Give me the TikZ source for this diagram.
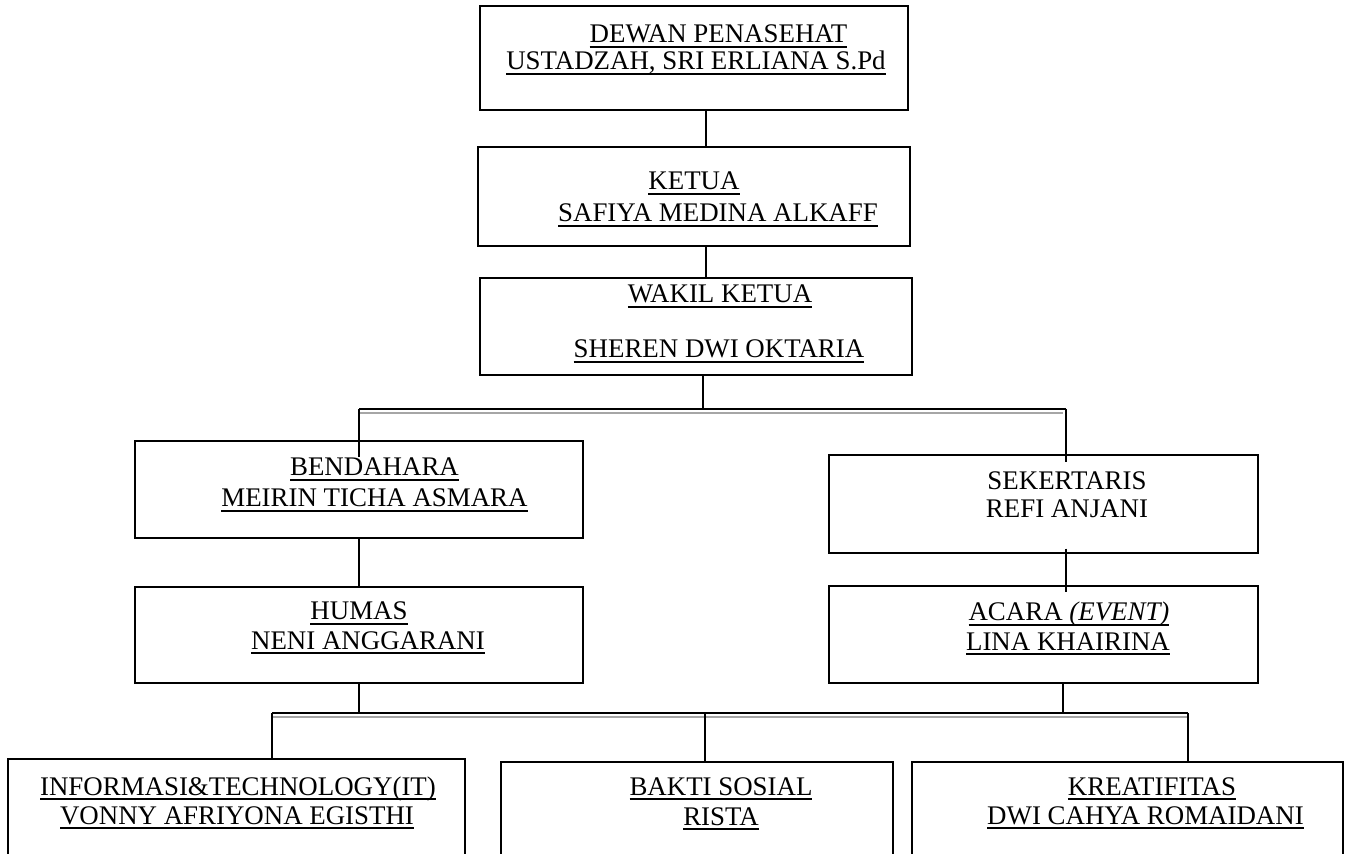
\documentclass[tikz,border=0pt]{standalone}
\usepackage{fontspec}
\setmainfont{Liberation Serif}
\usetikzlibrary{calc}
\newsavebox\labelbox
\newcommand\undl[1]{\sbox\labelbox{#1}\rlap{\rule[-2.8pt]{\wd\labelbox}{1pt}}\usebox\labelbox}

\begin{document}
\begin{tikzpicture}[x=0.02cm, y=-0.02cm, line width=0.6pt,
    font=\fontsize{15.3}{18}\selectfont,
    unit/.style 2 args={draw, minimum width=#1*0.02cm, minimum height=#2*0.02cm, inner sep=0},
    heavy/.style={line width=1.2pt},
    lbl/.style={anchor=base, inner sep=0},
    bus/.style={draw=black!35, line width=0.8pt}]
  \useasboundingbox (0,0) rectangle (1349,854);
  \clip (0,0) rectangle (1349,854);

  % boxes
  \node[unit={428}{104}] (dewan) at (694,58) {};
  \node[unit={432}{99}, heavy] (ketua) at (694,196.5) {};
  \node[unit={432}{97}] (wakil) at (696,326.5) {};
  \node[unit={448}{97}, heavy] (bendahara) at (359,489.5) {};
  \node[unit={429}{98}] (sekertaris) at (1043.5,504) {};
  \node[unit={448}{96}] (humas) at (359,635) {};
  \node[unit={429}{97}] (acara) at (1043.5,634.5) {};
  \node[unit={457}{200}] (it) at (236.5,859) {};
  \node[unit={392}{200}] (bakti) at (697,862) {};
  \node[unit={431}{200}] (kreatif) at (1127.5,862) {};

  % texts
  \node[lbl] (dewan-a) at (718.5,43) {\undl{DEWAN PENASEHAT}};
  \node[lbl] (dewan-b) at (696,70) {\undl{USTADZAH, SRI ERLIANA S.Pd}};
  \node[lbl] (ketua-a) at (694,190) {\undl{KETUA}};
  \node[lbl] (ketua-b) at (718,222) {\undl{SAFIYA MEDINA ALKAFF}};
  \node[lbl] (wakil-a) at (720,303) {\undl{WAKIL KETUA}};
  \node[lbl] (wakil-b) at (719,358) {\undl{SHEREN DWI OKTARIA}};
  \node[lbl] (bendahara-a) at (374.5,476) {\undl{BENDAHARA}};
  \node[lbl] (bendahara-b) at (374.5,507) {\undl{MEIRIN TICHA ASMARA}};
  \node[lbl] (sekertaris-a) at (1067,490) {SEKERTARIS};
  \node[lbl] (sekertaris-b) at (1067,518) {REFI ANJANI};
  \node[lbl] (humas-a) at (359,620) {\undl{HUMAS}};
  \node[lbl] (humas-b) at (368,649) {\undl{NENI ANGGARANI}};
  \node[lbl] (acara-a) at (1069,621) {\undl{ACARA \textit{(EVENT)}}};
  \node[lbl] (acara-b) at (1068,650) {\undl{LINA KHAIRINA}};
  \node[lbl] (it-a) at (238,795) {\undl{INFORMASI\&TECHNOLOGY(IT)}};
  \node[lbl] (it-b) at (237,824) {\undl{VONNY AFRIYONA EGISTHI}};
  \node[lbl] (bakti-a) at (721,795) {\undl{BAKTI SOSIAL}};
  \node[lbl] (bakti-b) at (721,825) {\undl{RISTA}};
  \node[lbl] (kreatif-a) at (1152,795) {\undl{KREATIFITAS}};
  \node[lbl] (kreatif-b) at (1145.5,824) {\undl{DWI CAHYA ROMAIDANI}};

  % connectors
  \coordinate (spine) at (706,0);
  \draw (dewan.south -| spine) -- (ketua.north -| spine);
  \draw (ketua.south -| spine) -- (wakil.north -| spine);

  \coordinate (bus1) at (703,409);
  \coordinate (bus1L) at (359,409);
  \coordinate (bus1R) at (1066,409);
  \coordinate (bendTip) at (359,457);
  \coordinate (sekTip) at (1066,462);
  \draw (wakil.south -| bus1) -- (bus1);
  \draw[bus] ($(bus1L)+(0,4)$) -- ($(bus1R)+(-3,4)$);
  \draw (bus1L) -- (bus1R);
  \draw (bus1L) -- (bendTip);
  \draw (bus1R) -- (sekTip);
  \draw (bendahara.south) -- (humas.north);
  \draw ($(sekertaris.south -| sekTip)+(0,-5)$) -- ($(acara.north -| sekTip)+(0,7)$);

  \coordinate (bus2L) at (272,713);
  \coordinate (bus2M) at (705,713);
  \coordinate (bus2R) at (1188,713);
  \coordinate (acaraDrop) at (1063,713);
  \draw (humas.south) -- (humas.south |- bus2L);
  \draw (acara.south -| acaraDrop) -- (acaraDrop);
  \draw[bus] ($(bus2L)+(0,4)$) -- ($(bus2R)+(0,4)$);
  \draw (bus2L) -- (bus2R);
  \draw (bus2L) -- (it.north -| bus2L);
  \draw (bus2M) -- (bakti.north -| bus2M);
  \draw (bus2R) -- (kreatif.north -| bus2R);
\end{tikzpicture}
\end{document}
